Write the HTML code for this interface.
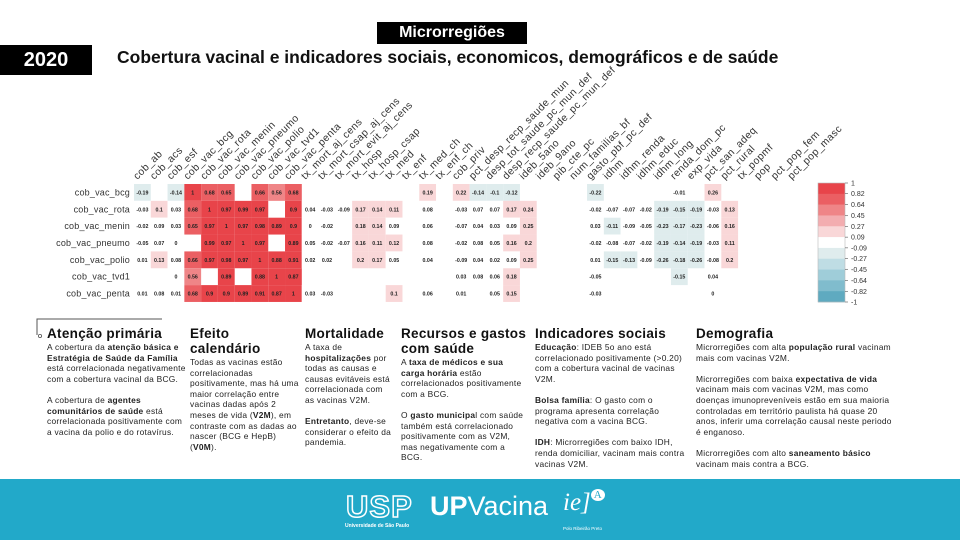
<!DOCTYPE html>
<html><head><meta charset="utf-8">
<style>
body{margin:0;width:960px;height:540px;overflow:hidden;background:#fff;font-family:"Liberation Sans",sans-serif;position:relative}
.abs{position:absolute}
.col{position:absolute;top:326px;font-size:8.4px;line-height:10.6px;color:#222;letter-spacing:0.25px}
.col h3{margin:0 0 1px 0;font-size:13.5px;line-height:15px;font-weight:bold;color:#111;letter-spacing:0.3px;white-space:nowrap}
.col p{margin:0 0 10.6px 0}
</style></head><body>
<div class="abs" style="left:377px;top:22px;width:150px;height:22px;background:#000;color:#fff;font-weight:bold;font-size:16px;line-height:22px;text-align:center">Microrregiões</div>
<div class="abs" style="left:0;top:45px;width:92px;height:30px;background:#000;color:#fff;font-weight:bold;font-size:20px;line-height:30px;text-align:center">2020</div>
<div class="abs" style="left:117px;top:47px;font-weight:bold;font-size:17.5px;color:#111;white-space:nowrap">Cobertura vacinal e indicadores sociais, economicos, demográficos e de saúde</div>

<svg class="abs" style="left:0;top:0" width="960" height="320" id="hm"></svg>

<svg class="abs" style="left:0;top:0" width="200" height="345"><path d="M162 319H37V335" stroke="#555" fill="none" stroke-width="1"/><circle cx="40" cy="336" r="1.6" fill="none" stroke="#555" stroke-width="0.8"/></svg>

<div class="col" style="left:47px;width:140px"><h3>Atenção primária</h3><p>A cobertura da <b>atenção básica e Estratégia de Saúde da Família</b> está correlacionada negativamente com a cobertura vacinal da BCG.</p><p>A cobertura de <b>agentes comunitários de saúde</b> está correlacionada positivamente com a vacina da polio e do rotavírus.</p></div>
<div class="col" style="left:190px;width:112px"><h3>Efeito<br>calendário</h3><p>Todas as vacinas estão correlacionadas positivamente, mas há uma maior correlação entre vacinas dadas após 2 meses de vida (<b>V2M</b>), em contraste com as dadas ao nascer (BCG e HepB) (<b>V0M</b>).</p></div>
<div class="col" style="left:305px;width:88px"><h3>Mortalidade</h3><p>A taxa de <b>hospitalizações</b> por todas as causas e causas evitáveis está correlacionada com as vacinas V2M.</p><p><b>Entretanto</b>, deve-se considerar o efeito da pandemia.</p></div>
<div class="col" style="left:401px;width:125px"><h3>Recursos e gastos<br>com saúde</h3><p>A <b>taxa de médicos e sua carga horária</b> estão correlacionados positivamente com a BCG.</p><p>O <b>gasto municipa</b>l com saúde também está correlacionado positivamente com as V2M, mas negativamente com a BCG.</p></div>
<div class="col" style="left:535px;width:150px"><h3>Indicadores sociais</h3><p><b>Educação</b>: IDEB 5o ano está correlacionado positivamente (&gt;0.20) com a cobertura vacinal de vacinas V2M.</p><p><b>Bolsa família</b>: O gasto com o programa apresenta correlação negativa com a vacina BCG.</p><p><b>IDH</b>: Microrregiões com baixo IDH, renda domiciliar, vacinam mais contra vacinas V2M.</p></div>
<div class="col" style="left:696px;width:200px"><h3>Demografia</h3><p>Microrregiões com alta <b>população rural</b> vacinam mais com vacinas V2M.</p><p>Microrregiões com baixa <b>expectativa de vida</b> vacinam mais com vacinas V2M, mas como doenças imunopreveníveis estão em sua maioria controladas em território paulista há quase 20 anos, inferir uma correlação causal neste periodo é enganoso.</p><p>Microrregiões com alto <b>saneamento básico</b> vacinam mais contra a BCG.</p></div>

<div class="abs" style="left:0;top:479px;width:960px;height:61px;background:#22a9c9">
 <div class="abs" style="left:346px;top:10px;color:#fff;font-weight:bold;font-size:31px;letter-spacing:1px;font-family:'Liberation Sans',sans-serif"><span style="color:transparent;-webkit-text-stroke:1.5px #fff">USP</span></div>
 <div class="abs" style="left:345px;top:44px;color:#fff;font-size:5px;font-weight:bold">Universidade de São Paulo</div>
 <div class="abs" style="left:430px;top:12px;color:#fff;font-size:27px"><b>UP</b>Vacina</div>
 <div class="abs" style="left:563px;top:10px;color:#fff;font-size:25px;font-family:'Liberation Serif',serif;font-style:italic">ie]<span style="font-size:11px;vertical-align:top;background:#fff;color:#22a9c9;border-radius:50%;padding:0 3px;font-style:normal">A</span></div>
 <div class="abs" style="left:563px;top:47px;color:#fff;font-size:4.5px">Polo Ribeirão Preto</div>
</div>

<script>
const rowLabels=["cob_vac_bcg","cob_vac_rota","cob_vac_menin","cob_vac_pneumo","cob_vac_polio","cob_vac_tvd1","cob_vac_penta"];
const colLabels=["cob_ab","cob_acs","cob_esf","cob_vac_bcg","cob_vac_rota","cob_vac_menin","cob_vac_pneumo","cob_vac_polio","cob_vac_tvd1","cob_vac_penta","tx_mort_aj_cens","tx_mort_csap_aj_cens","tx_mort_evit_aj_cens","tx_hosp","tx_hosp_csap","tx_med","tx_enf","tx_med_ch","tx_enf_ch","cob_priv","pct_desp_recp_saude_mun","desp_tot_saude_pc_mun_def","desp_recp_saude_pc_mun_def","ideb_5ano","ideb_9ano","pib_cte_pc","num_familias_bf","gasto_pbf_pc_def","idhm","idhm_renda","idhm_educ","idhm_long","renda_dom_pc","exp_vida","pct_san_adeq","pct_rural","tx_popmf","pop","pct_pop_fem","pct_pop_masc"];
const N=null;
const rowBcg=[-0.19,N,-0.14,1,0.68,0.65,N,0.66,0.56,0.68,N,N,N,N,N,N,N,0.19,N,0.22,-0.14,-0.1,-0.12,N,N,N,N,-0.22,N,N,N,N,-0.01,N,0.26,N,N,N,N,N];
const rowRota=[-0.03,0.1,0.03,0.68,1,0.97,0.99,0.97,N,0.9,0.04,-0.03,-0.09,0.17,0.14,0.11,N,0.08,N,-0.03,0.07,0.07,0.17,0.24,N,N,N,-0.02,-0.07,-0.07,-0.02,-0.19,-0.15,-0.19,-0.03,0.13,N,N,N,N];
const rowMenin=[-0.02,0.09,0.03,0.65,0.97,1,0.97,0.98,0.89,0.9,0,-0.02,N,0.18,0.14,0.09,N,0.06,N,-0.07,0.04,0.03,0.09,0.25,N,N,N,0.03,-0.11,-0.09,-0.05,-0.23,-0.17,-0.23,-0.06,0.16,N,N,N,N];
const rowPneumo=[-0.05,0.07,0,N,0.99,0.97,1,0.97,N,0.89,0.05,-0.02,-0.07,0.16,0.11,0.12,N,0.08,N,-0.02,0.08,0.05,0.16,0.2,N,N,N,-0.02,-0.08,-0.07,-0.02,-0.19,-0.14,-0.19,-0.03,0.11,N,N,N,N];
const rowPolio=[0.01,0.13,0.08,0.66,0.97,0.98,0.97,1,0.88,0.91,0.02,0.02,N,0.2,0.17,0.05,N,0.04,N,-0.09,0.04,0.02,0.09,0.25,N,N,N,0.01,-0.15,-0.13,-0.09,-0.26,-0.18,-0.26,-0.08,0.2,N,N,N,N];
const rowTvd1=[N,N,0,0.56,N,0.89,N,0.88,1,0.87,N,N,N,N,N,N,N,N,N,0.03,0.08,0.06,0.18,N,N,N,N,-0.05,N,N,N,N,-0.15,N,0.04,N,N,N,N,N];
const rowPenta=[0.01,0.08,0.01,0.68,0.9,0.9,0.89,0.91,0.87,1,0.03,-0.03,N,N,N,0.1,N,0.06,N,0.01,N,0.05,0.15,N,N,N,N,-0.03,N,N,N,N,N,N,0,N,N,N,N,N];
const matrix=[rowBcg,rowRota,rowMenin,rowPneumo,rowPolio,rowTvd1,rowPenta];
const scaleTicks=[1,0.82,0.64,0.45,0.27,0.09,-0.09,-0.27,-0.45,-0.64,-0.82,-1];
const binColors=["#e8444a","#eb5f63","#ef8587","#f3adb0","#f9d7d8","#ffffff","#dfeced","#bfdde4","#9fcdd9","#80bccd","#5faac0"];
const X0=134,Y0=184,CW=16.78,RH=16.85;
const xS=i=>X0+i*CW, yS=j=>Y0+j*RH;
const NS="http://www.w3.org/2000/svg";
const svg=document.getElementById('hm');
function el(t,a){const e=document.createElementNS(NS,t);for(const k in a)e.setAttribute(k,a[k]);return e;}
function color(v){
  for(let b=0;b<11;b++){const hi=scaleTicks[b],lo=scaleTicks[b+1];if(v<=hi+1e-9&&v>lo+1e-9)return binColors[b];}
  if(v<=-0.82)return binColors[10];return binColors[5];
}
function bin(v){if(Math.abs(v)<=0.09)return "#ffffff";return color(v);}
rowLabels.forEach((r,j)=>{
  const t=el('text',{x:X0-4,y:yS(j)+RH/2+3,'text-anchor':'end','font-size':'9','letter-spacing':'0.2',fill:'#333'});
  t.textContent=r;
  
  
  svg.appendChild(t);
});
colLabels.forEach((c,i)=>{
  const cx=xS(i)+CW/2-5, cy=Y0-4;
  const t=el('text',{x:cx,y:cy,'font-size':'10.3','letter-spacing':'0.4',fill:'#333',transform:`rotate(-45 ${cx} ${cy})`});
  t.textContent=c;
  
  
  svg.appendChild(t);
});
matrix.forEach((row,j)=>row.forEach((v,i)=>{
  if(v===null)return;
  const r=el('rect',{x:xS(i),y:yS(j),width:CW,height:RH,fill:bin(v)});
  
  
  svg.appendChild(r);
  const t=el('text',{x:xS(i)+CW/2,y:yS(j)+RH/2+2,'text-anchor':'middle','font-size':'5.3','font-weight':'bold',fill:'#222'});
  t.textContent=String(v);
  
  
  svg.appendChild(t);
}));
const CBX=818,CBY=183,CBW=27,CBH=119;
const segH=CBH/binColors.length;
binColors.forEach((c,b)=>{
  const r=el('rect',{x:CBX,y:CBY+b*segH,width:CBW,height:segH+0.3,fill:c});
  
  
  svg.appendChild(r);
});
const fr=el('rect',{x:CBX,y:CBY,width:CBW,height:CBH,fill:'none',stroke:'#bbb','stroke-width':'0.6'});


svg.appendChild(fr);
scaleTicks.forEach((v,k)=>{
  const y=CBY+CBH*(1-v)/2;
  const ln=el('line',{x1:CBX+CBW,x2:CBX+CBW+3,y1:y,y2:y,stroke:'#555','stroke-width':'0.6'});
  
  
  svg.appendChild(ln);
  const t=el('text',{x:CBX+CBW+6,y:y+2.5,'font-size':'7',fill:'#333'});
  t.textContent=String(v);
  
  
  svg.appendChild(t);
});
</script>
</body></html>
